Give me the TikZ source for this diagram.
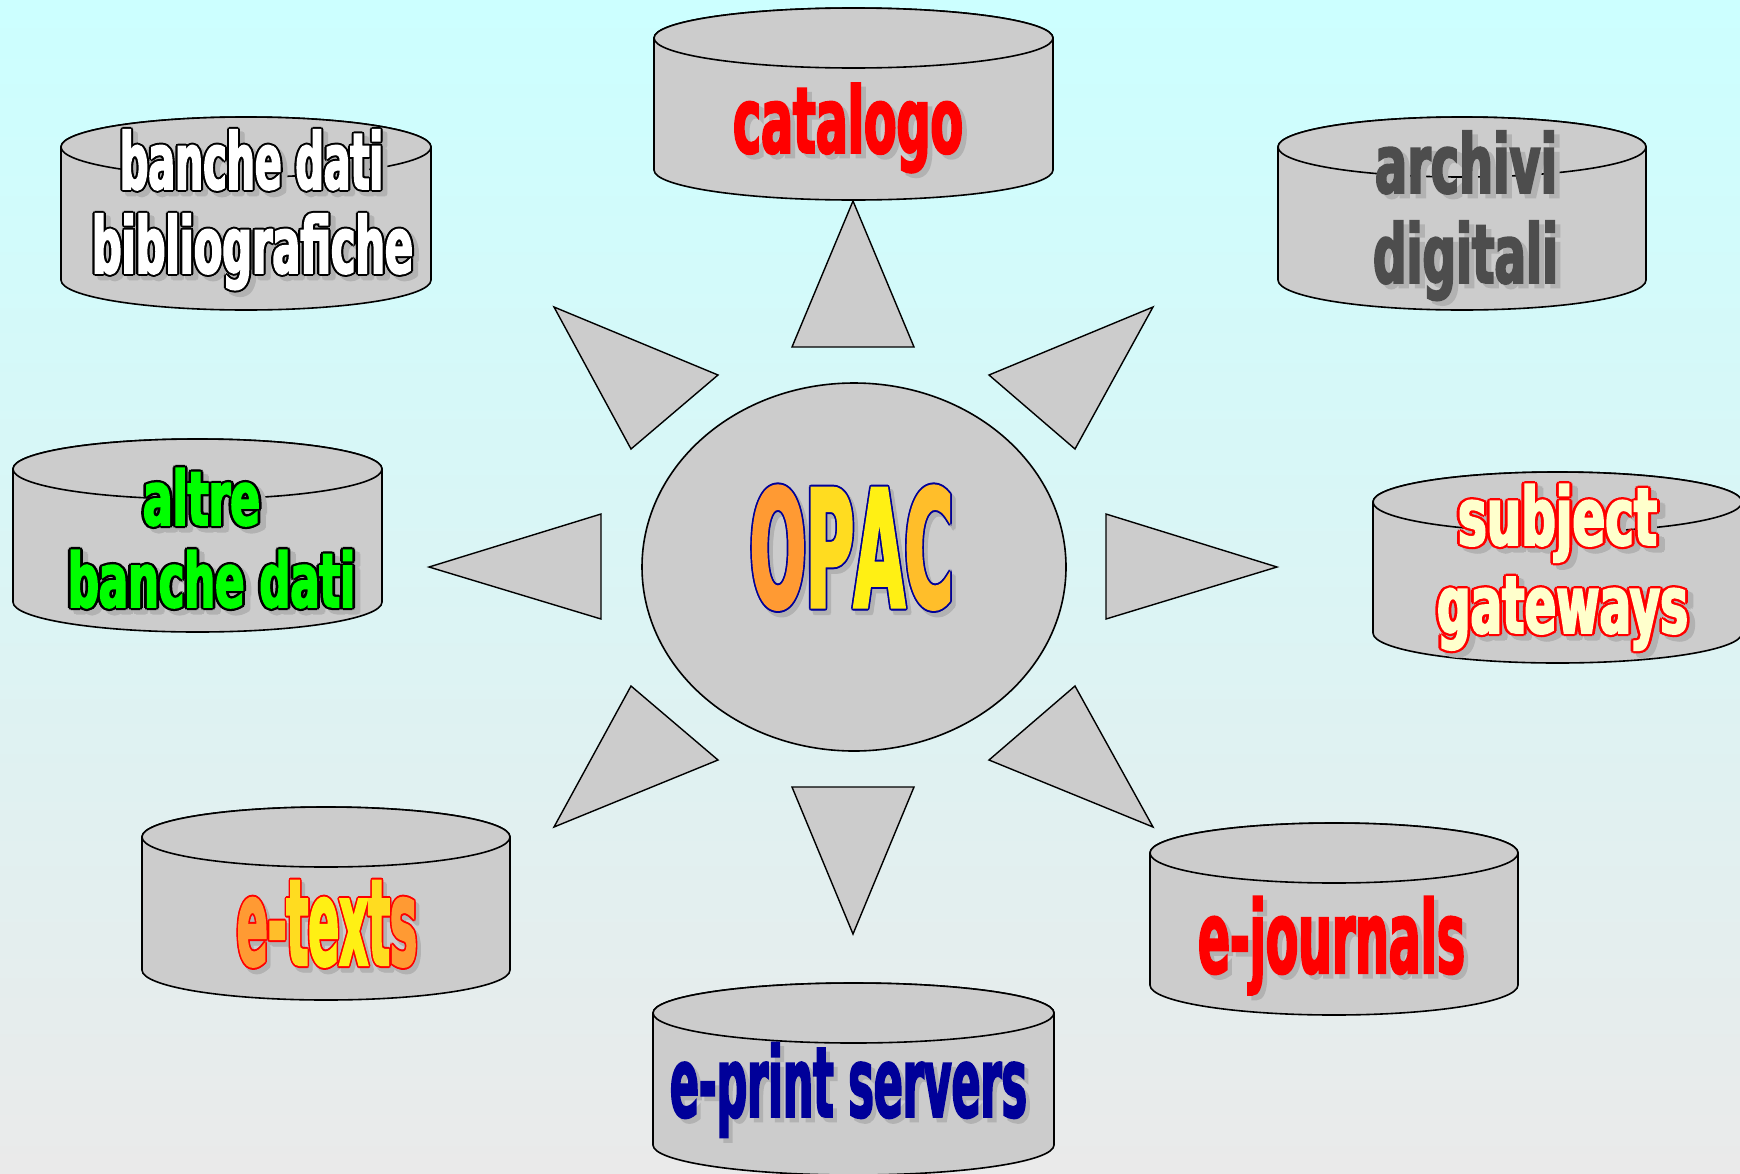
\documentclass[tikz,border=0pt]{standalone}
\usepackage{fontspec}
\usepackage{graphicx}
\newfontfamily\impf{DejaVu Sans}[FakeStretch=0.48,FakeBold=2]
\usetikzlibrary{shapes.geometric}
\definecolor{bgtop}{HTML}{CCFFFF}
\definecolor{bgbot}{HTML}{EAEAEA}
\definecolor{cylgray}{HTML}{CCCCCC}
\definecolor{shadowc}{HTML}{B2B2B2}
\definecolor{wred}{HTML}{FF0000}
\definecolor{wgreen}{HTML}{00FF00}
\definecolor{wdgray}{HTML}{4D4D4D}
\definecolor{wblue}{HTML}{000099}
\definecolor{wlyellow}{HTML}{FFFFCC}
\definecolor{gA}{HTML}{FF9A33}
\definecolor{gB}{HTML}{FFBE2A}
\definecolor{gC}{HTML}{FFDC20}
\definecolor{gD}{HTML}{FFF014}
\newif\ifwacopy
\newcommand\gc[2]{\ifwacopy\textcolor{wacopycol}{#2}\else\textcolor{#1}{#2}\fi}
\newcommand\wacopy[4]{% colour, dx, dy, text
  \rlap{\hspace*{#2pt}\raisebox{#3pt}{\colorlet{wacopycol}{#1}\wacopytrue\color{#1}#4}}}
\newcommand\wacopies[5]{%
  \foreach \ang in {0,45,...,315}{%
    \wacopy{#1}{\fpeval{round(#3+#2*cosd(\ang),3)}}{\fpeval{round(#4+#2*sind(\ang),3)}}{#5}}}
\newcommand\wordart[5]{%
  \resizebox{#1}{\height}{%
    \ifdim #4pt>0pt
      \wacopies{shadowc}{#4}{4.5}{-4.5}{#5}%
      \wacopies{#3}{#4}{0}{0}{#5}%
    \else
      \wacopy{shadowc}{4.5}{-4.5}{#5}%
    \fi
    {\wacopyfalse\color{#2}#5}}}
\newcommand\cylinder[4]{%
  \filldraw[cylstyle] (#1,#3) -- (#1,#4)
    arc[start angle=180,end angle=360,x radius=\fpeval{(#2-#1)/2}pt,y radius=30pt]
    -- (#2,#3)
    arc[start angle=0,end angle=180,x radius=\fpeval{(#2-#1)/2}pt,y radius=30pt] -- cycle;
  \draw[cylstyle] (\fpeval{(#1+#2)/2},#3) ellipse [x radius=\fpeval{(#2-#1)/2}pt,y radius=30pt];}
\tikzset{
  cylstyle/.style={fill=cylgray,draw=black,line width=1.6pt},
  tri/.style={fill=cylgray,draw=black,line width=1.4pt,line join=miter},
  wa/.style={anchor=base,inner sep=0pt,font=\impf\bfseries}
}
\begin{document}
\begin{tikzpicture}[x=1pt,y=-1pt]
\useasboundingbox (0,0) rectangle (1740,1173);
\shade[top color=bgtop,bottom color=bgbot] (0,0) rectangle (1740,1173);
% cylinders
\cylinder{654}{1053}{38}{170}
\cylinder{61}{431}{147}{280}
\cylinder{1278}{1646}{147}{280}
\cylinder{13}{382}{469}{602}
\cylinder{1373}{1742}{502}{633}
\cylinder{142}{510}{837}{970}
\cylinder{1150}{1518}{853}{985}
\cylinder{653}{1054}{1013}{1145}
% rays
\filldraw[tri] (792,347) -- (914,347) -- (853,201) -- cycle;
\filldraw[tri] (792,787) -- (914,787) -- (853,934) -- cycle;
\filldraw[tri] (601,514) -- (601,619) -- (429,567) -- cycle;
\filldraw[tri] (1106,514) -- (1106,619) -- (1277,567) -- cycle;
\filldraw[tri] (554,307) -- (718,375) -- (631,449) -- cycle;
\filldraw[tri] (1153,307) -- (989,375) -- (1075,449) -- cycle;
\filldraw[tri] (554,827) -- (718,760) -- (631,686) -- cycle;
\filldraw[tri] (1153,827) -- (989,760) -- (1075,686) -- cycle;
% centre
\node[ellipse,fill=cylgray,draw=black,line width=1.6pt,minimum width=424pt,minimum height=368pt,inner sep=0pt] (opac) at (854,567) {};
% texts
\node[wa] (catalogo) at (848,153) {\fontsize{92}{96}\selectfont\wordart{230pt}{wred}{wred}{0}{catalogo}};
\node[wa] (bdb1) at (251.5,189) {\fontsize{78}{82}\selectfont\wordart{263pt}{white}{black}{2}{banche dati}};
\node[wa] (bdb2) at (252.5,273) {\fontsize{78}{82}\selectfont\wordart{321pt}{white}{black}{2}{bibliografiche}};
\node[wa] (arch1) at (1466,193) {\fontsize{82}{86}\selectfont\wordart{182pt}{wdgray}{wdgray}{0}{archivi}};
\node[wa] (arch2) at (1465.5,283) {\fontsize{82}{86}\selectfont\wordart{185pt}{wdgray}{wdgray}{0}{digitali}};
\node[wa] (altre1) at (201.5,525) {\fontsize{75}{80}\selectfont\wordart{117pt}{wgreen}{black}{2.3}{altre}};
\node[wa] (altre2) at (211.5,607) {\fontsize{75}{80}\selectfont\wordart{287pt}{wgreen}{black}{2.3}{banche dati}};
\node[wa] (subj1) at (1557.5,545) {\fontsize{80}{84}\selectfont\wordart{199pt}{wlyellow}{wred}{2.3}{subject}};
\node[wa] (subj2) at (1562.5,633) {\fontsize{80}{84}\selectfont\wordart{251pt}{wlyellow}{wred}{2.3}{gateways}};
\node[wa] (etexts) at (327,965) {\fontsize{120}{124}\selectfont\wordart{180pt}{gA}{wred}{2}{\gc{gA}{e}\gc{gB}{-}\gc{gC}{t}\gc{gD}{e}\gc{gD}{x}\gc{gC}{t}\gc{gA}{s}}};
\node[wa] (ejournals) at (1331.5,973) {\fontsize{101}{105}\selectfont\wordart{267pt}{wred}{wred}{0}{e-journals}};
\node[wa] (eprint) at (848.5,1117) {\fontsize{98}{102}\selectfont\wordart{357pt}{wblue}{wblue}{0}{e-print servers}};
\node[wa] (opactext) at (851.5,607) {\fontsize{163}{168}\selectfont\wordart{203pt}{gA}{wblue}{2}{\gc{gA}{O}\gc{gC}{P}\gc{gD}{A}\gc{gB}{C}}};
\end{tikzpicture}
\end{document}
